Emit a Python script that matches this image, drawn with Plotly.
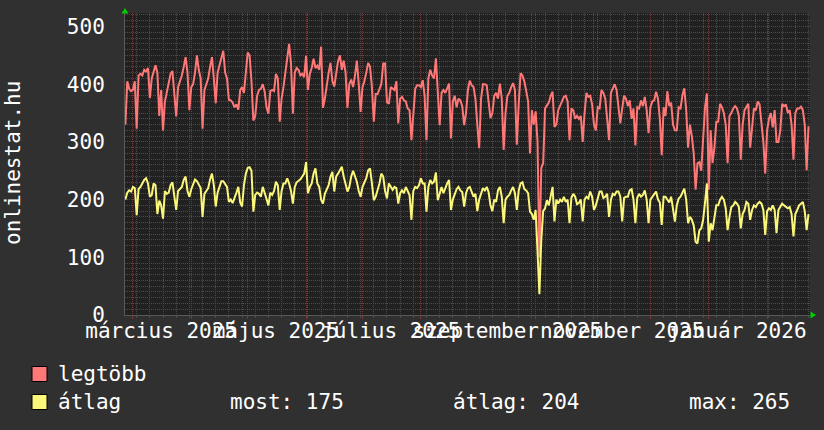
import plotly.graph_objects as go
import pandas as pd

# ---------------- data (daily values) ----------------
start_date = "2025-02-25"

legtobb = [
    330, 405, 392, 388, 390, 405, 323, 415, 418, 415,
    425, 422, 428, 376, 410, 420, 433, 420, 345, 390,
    320, 370, 385, 400, 418, 423, 380, 344, 395, 405,
    415, 430, 447, 420, 355, 395, 400, 420, 450, 425,
    410, 323, 390, 400, 410, 430, 447, 410, 367, 420,
    433, 445, 458, 420, 410, 373, 372, 368, 360, 365,
    356, 390, 395, 385, 424, 455, 450, 405, 337, 345,
    380, 390, 392,
    400, 387, 360, 349, 388, 390, 388, 418, 410, 335,
    375, 395, 420, 436, 470, 436, 349, 420, 428, 425,
    415, 418, 412, 449, 390, 418, 428, 444, 428, 432,
    425, 465, 359, 375, 400, 420, 437, 405, 396, 418,
    440, 450, 425, 441, 420, 359, 400, 408, 395, 415,
    441, 400, 352, 395, 405, 420, 437, 430, 395, 335,
    383, 383, 390, 400, 436, 436, 369, 366, 395, 393,
    390, 405, 332,
    375, 378, 372, 370, 358, 355, 303, 350, 392, 398,
    398, 395, 407, 380, 303, 410, 425, 415, 410, 445,
    384, 329, 385, 390, 385, 395, 401, 306, 370, 380,
    360, 375, 372, 362, 329, 350, 390, 406, 398, 395,
    375, 330, 289, 375, 400, 400, 398, 370, 341, 350,
    380, 385, 375, 401, 375, 286, 350, 380, 385, 395,
    402, 390, 295, 365, 419, 415, 405, 388, 370, 280,
    355, 330, 353, 300,
    100, 255, 263, 358,
    364, 368, 380, 387, 326, 330, 355, 362, 372, 378,
    380, 370, 303, 358, 355, 340, 345, 340, 345, 300,
    350, 385, 378, 380, 365, 330, 320, 360, 358, 390,
    385, 375, 340, 303, 385, 393, 400, 390, 356, 332,
    358, 380, 375, 362, 372, 340, 358, 294, 360, 358,
    372, 362, 378, 355, 315, 360, 370, 372, 387, 375,
    340, 277, 360, 345, 388, 362, 368, 330, 320,
    320, 360, 358, 381, 393, 355, 290, 330, 310, 280,
    217, 263, 265, 250, 300, 360, 384, 217, 320, 263,
    290, 335, 335, 366, 360, 350, 330, 263, 345, 350,
    358, 362, 358, 345, 269, 330, 355, 361, 366, 290,
    330, 358, 355, 370, 365, 330, 300, 245, 320, 340,
    350, 325, 355, 300, 300, 320, 366, 362, 365, 350,
    355, 330, 269, 350, 358, 358, 361, 355, 330, 251,
    327,
]

atlag = [
    200, 212, 216, 214, 222, 220, 173, 218, 222, 228,
    234, 237, 228, 205, 208, 228, 225, 175, 198, 190,
    167, 215, 210, 212, 225, 230, 200, 182, 215, 218,
    222, 234, 240, 215, 205, 218, 225, 235, 232, 225,
    220, 170, 210, 215, 220, 235, 245, 225, 188, 212,
    222, 232, 232, 228, 222, 196, 200, 194, 205, 212,
    222, 195, 188, 225, 245, 255, 256, 250, 179, 208,
    212, 210, 205,
    222, 212, 200, 190, 212, 208, 215, 231, 225, 182,
    215, 228, 228, 237, 228, 215, 193, 222, 230, 232,
    235, 240, 245, 265, 211, 222, 228, 245, 254, 228,
    222, 200, 193, 210, 218, 225, 240, 248, 214, 240,
    245, 250, 257, 240, 225, 214, 222, 240, 250, 240,
    231, 215, 205, 222, 231, 237, 251, 254, 228, 199,
    205, 215, 228, 245, 240, 215, 202, 228, 222, 217,
    222, 220, 193,
    211, 216, 211, 222, 216, 208, 165, 215, 222, 220,
    225, 237, 228, 228, 179, 222, 234, 228, 231, 247,
    199, 210, 222, 211, 220, 228, 234, 182, 200, 211,
    218, 222, 216, 213, 188, 211, 220, 222, 213, 205,
    210, 180, 200, 211, 220, 216, 222, 213, 190, 180,
    200, 196, 216, 222, 205, 159, 200, 205, 208, 216,
    222, 211, 182, 216, 228, 230, 218, 216, 211, 179,
    175, 165, 182, 110,
    36, 130, 180, 185,
    199, 190, 205, 222, 162, 200, 193, 200, 196, 205,
    196, 200, 159, 203, 210, 205, 192, 194, 200, 162,
    200, 205, 202, 214, 205, 182, 190, 205, 214, 214,
    203, 205, 210, 170, 200, 210, 208, 214, 214, 205,
    162, 203, 205, 205, 216, 218, 200, 159, 203, 210,
    205, 208, 216, 200, 159, 200, 205, 208, 214, 200,
    195, 156, 205, 205, 200, 195, 205, 182, 162,
    190, 202, 205, 211, 219, 200, 159, 170, 165, 155,
    127, 124, 147, 150, 165, 195, 228, 127, 159, 147,
    172, 190, 190, 200, 205, 200, 185, 147, 170, 187,
    190, 196, 193, 187, 150, 175, 182, 196, 193, 165,
    182, 190, 187, 193, 196, 193, 182, 139, 180, 185,
    182, 190, 182, 142, 182, 187, 193, 190, 187, 185,
    187, 175, 136, 175, 182, 190, 193, 196, 180, 147,
    175,
]

series_names = ["legtöbb", "átlag"]
month_label_dates = ["2025-03-16", "2025-05-16", "2025-07-16",
                     "2025-09-16", "2025-11-16", "2026-01-16"]
month_labels = ["március 2025", "május 2025", "július 2025",
                "szeptember 2025", "november 2025", "január 2026"]
y_ticks = [0, 100, 200, 300, 400, 500]
y_title = "onlinestat.hu"
legend_stats = ["most: 175", "átlag: 204", "max: 265"]

# ---------------- styling ----------------
FONT = "DejaVu Sans Mono"
FS = 21
TXT = "#ffffff"
BG = "#303030"
CANVAS = "#212121"
RED_GRID = "#853434"
GRAY_GRID = "#4c4c4c"
RED_LINE = "#ff7878"
YEL_LINE = "#fbf77a"

W, H = 824, 430
L, R, T, B = 125, 14, 13, 115
PW, PH = W - L - R, H - T - B

def px(xp):
    return (xp - L) / PW

def py(yp):
    return (H - B - yp) / PH

dates = pd.date_range(start_date, periods=len(legtobb), freq="D")
x_range = ["2025-02-24 19:00", "2026-02-23 19:00"]

fig = go.Figure()
fig.add_trace(go.Scatter(x=dates, y=legtobb, mode="lines", name=series_names[0],
                         line=dict(color=RED_LINE, width=2),
                         showlegend=False))
fig.add_trace(go.Scatter(x=dates, y=atlag, mode="lines", name=series_names[1],
                         line=dict(color=YEL_LINE, width=2),
                         showlegend=False))
# invisible trace carrying the label axis
fig.add_trace(go.Scatter(x=pd.to_datetime(month_label_dates), y=[None] * len(month_label_dates),
                         xaxis="x2", mode="markers", showlegend=False, hoverinfo="skip"))

fig.update_layout(
    width=W, height=H, autosize=False,
    margin=dict(l=L, r=R, t=T, b=B, pad=0),
    paper_bgcolor=BG, plot_bgcolor=CANVAS,
    font=dict(family=FONT, size=FS, color=TXT),
    xaxis=dict(
        type="date", range=x_range,
        tickmode="linear", dtick="M1", tick0="2025-03-01",
        showticklabels=False,
        showgrid=True, gridcolor=RED_GRID, griddash="1px,1px", gridwidth=1,
        ticks="outside", ticklen=3, tickcolor=RED_GRID,
        minor=dict(tickmode="linear", dtick=7 * 86400000, tick0="2025-03-10",
                   showgrid=True, gridcolor=GRAY_GRID, griddash="1px,1px",
                   ticks="outside", ticklen=2, tickcolor=GRAY_GRID),
        showline=True, linecolor="#585858", linewidth=1,
        zeroline=False, fixedrange=True,
    ),
    xaxis2=dict(
        type="date", range=x_range, overlaying="x", anchor="y", side="bottom",
        tickmode="array", tickvals=month_label_dates, ticktext=month_labels,
        tickangle=0, showgrid=False, ticks="", showline=False, zeroline=False,
        tickfont=dict(family=FONT, size=FS, color=TXT),
        ticklabelstandoff=1, fixedrange=True,
    ),
    yaxis=dict(
        range=[0, PH / 0.577], tickmode="array", tickvals=y_ticks,
        showgrid=True, gridcolor=RED_GRID, griddash="1px,1px", gridwidth=1,
        minor=dict(tickmode="linear", tick0=0, dtick=10, showgrid=True,
                   gridcolor=GRAY_GRID, griddash="1px,1px"),
        ticks="", tickfont=dict(family=FONT, size=FS, color=TXT),
        ticklabelstandoff=15,
        showline=True, linecolor="#585858", linewidth=1,
        zeroline=False, fixedrange=True,
    ),
)

# y axis title
fig.add_annotation(text=y_title, xref="paper", yref="paper", x=px(13), y=py(163),
                   xanchor="center", yanchor="middle", textangle=-90, showarrow=False,
                   font=dict(family=FONT, size=FS, color=TXT))

# axis arrows
fig.add_shape(type="path", xref="paper", yref="paper",
              path=f"M {px(121.5)},{py(13.5)} L {px(128.5)},{py(13.5)} L {px(125)},{py(8)} Z",
              fillcolor="#00d000", line=dict(width=0))
fig.add_shape(type="path", xref="paper", yref="paper",
              path=f"M {px(810.5)},{py(311.5)} L {px(810.5)},{py(318.5)} L {px(816)},{py(315)} Z",
              fillcolor="#00d000", line=dict(width=0))

# legend
legend_rows = [(374, RED_LINE, series_names[0]), (402, YEL_LINE, series_names[1])]
for yc, col, name in legend_rows:
    fig.add_shape(type="rect", xref="paper", yref="paper",
                  x0=px(32), x1=px(47), y0=py(yc - 7.5), y1=py(yc + 7.5),
                  fillcolor=col, line=dict(color="#000000", width=1))
    fig.add_annotation(text=name, xref="paper", yref="paper", x=px(56), y=py(yc),
                       xanchor="left", yanchor="middle", showarrow=False,
                       font=dict(family=FONT, size=FS, color=TXT))
for xs, txt in zip([228, 451, 687], legend_stats):
    fig.add_annotation(text=txt, xref="paper", yref="paper", x=px(xs), y=py(402),
                       xanchor="left", yanchor="middle", showarrow=False,
                       font=dict(family=FONT, size=FS, color=TXT))

fig.write_html("out.html", config={"displayModeBar": False},
               post_script="document.body.style.margin='0';document.body.style.overflow='hidden';")
